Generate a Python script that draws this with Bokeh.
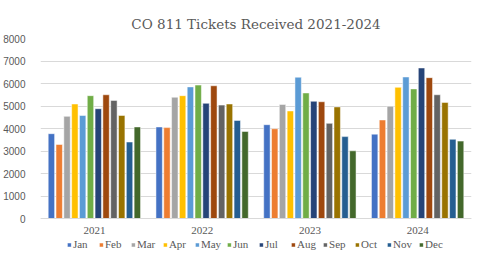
from bokeh.plotting import figure
from bokeh.models import ColumnDataSource, Legend, LegendItem, FixedTicker
from bokeh.transform import dodge
from bokeh.embed import file_html
from bokeh.resources import INLINE

years = ["2021", "2022", "2023", "2024"]
months = ["Jan", "Feb", "Mar", "Apr", "May", "Jun", "Jul", "Aug", "Sep", "Oct", "Nov", "Dec"]
colors = ["#4472C4", "#ED7D31", "#A5A5A5", "#FFC000", "#5B9BD5", "#70AD47",
          "#264478", "#9E480E", "#636363", "#997300", "#255E91", "#43682B"]

jan = [3770, 4070, 4170, 3750]
feb = [3290, 4040, 3990, 4380]
mar = [4540, 5390, 5070, 4990]
apr = [5090, 5460, 4780, 5830]
may = [4580, 5850, 6280, 6290]
jun = [5460, 5930, 5580, 5760]
jul = [4880, 5120, 5210, 6690]
aug = [5500, 5900, 5190, 6260]
sep = [5250, 5040, 4230, 5500]
oct_ = [4580, 5090, 4960, 5160]
nov = [3400, 4360, 3640, 3520]
dec = [4070, 3870, 3010, 3440]
series = [jan, feb, mar, apr, may, jun, jul, aug, sep, oct_, nov, dec]
y_ticks = list(range(0, 8001, 1000))

data = {"year": years}
for m, s in zip(months, series):
    data[m] = s
source = ColumnDataSource(data)

# frame extends below zero so that the legend fits inside it
p = figure(x_range=years, y_range=(-1820, 8000), frame_width=431, frame_height=221,
           output_backend="svg", toolbar_location=None,
           title="CO 811 Tickets Received 2021-2024")
p.title.align = "center"
p.title.vertical_align = "top"
p.title.text_font = "DejaVu Serif"
p.title.text_font_size = "13.5px"
p.title.text_font_style = "normal"
p.title.text_color = "#595959"

slot = 0.87 / 12
items = []
for i, (m, c) in enumerate(zip(months, colors)):
    r = p.vbar(x=dodge("year", (i - 5.5) * slot, range=p.x_range), top=m, bottom=0,
               width=slot * 0.82, source=source, fill_color=c,
               line_color="white", line_width=0.5)
    items.append(LegendItem(label=m, renderers=[r]))

p.x_range.range_padding = 0.0
p.yaxis.ticker = FixedTicker(ticks=y_ticks)
p.yaxis.major_tick_line_color = None
p.yaxis.minor_tick_line_color = None
p.yaxis.axis_line_color = None
p.yaxis.major_label_text_font = "Liberation Sans"
p.yaxis.major_label_text_font_size = "10px"
p.yaxis.major_label_text_color = "#595959"
p.yaxis.major_label_standoff = 9

p.xaxis.fixed_location = 0
p.xaxis.major_tick_line_color = None
p.xaxis.axis_line_color = "#D9D9D9"
p.xaxis.major_label_text_font = "Liberation Serif"
p.xaxis.major_label_text_font_size = "11px"
p.xaxis.major_label_text_color = "#595959"
p.xaxis.major_label_standoff = 2

p.xgrid.grid_line_color = None
p.ygrid.grid_line_color = "#D9D9D9"
p.outline_line_color = None

legend = Legend(items=items, orientation="horizontal", location="bottom_center")
legend.label_text_font = "Liberation Serif"
legend.label_text_font_size = "11px"
legend.label_text_color = "#595959"
legend.glyph_width = 5
legend.glyph_height = 5
legend.spacing = 5
legend.label_standoff = 2
legend.label_height = 11
legend.padding = 0
legend.margin = 9
legend.border_line_color = None
legend.background_fill_alpha = 0
p.add_layout(legend, "center")

p.min_border_left = 0
p.min_border_right = 4
p.min_border_top = 38
p.min_border_bottom = 0

open("out.html", "w").write(file_html(p, INLINE))
